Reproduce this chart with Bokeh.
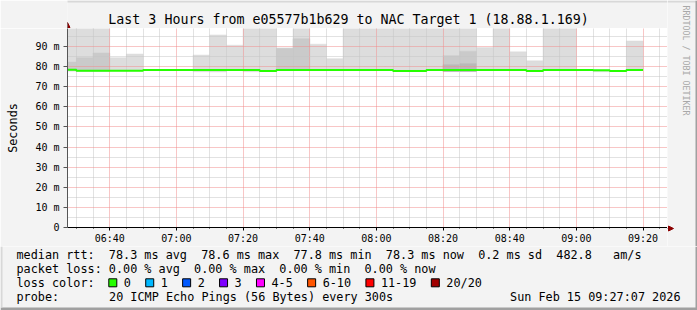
import math
import numpy as np
import pandas as pd
from bokeh.plotting import figure
from bokeh.layouts import column, row
from bokeh.models import Range1d, FixedTicker, DatetimeTickFormatter, Arrow, NormalHead
from bokeh.core.properties import value
from bokeh.embed import file_html
from bokeh.resources import INLINE

# ---------------- data ----------------
DAY = "2026-02-15"
bin_starts = pd.date_range(f"{DAY} 06:25", periods=35, freq="5min")

median_ms = [78.5, 78.0, 78.0, 78.0, 78.0, 78.3, 78.3, 78.3, 78.4, 78.4,
             78.4, 78.4, 77.8, 78.4, 78.4, 78.4, 78.4, 78.4, 78.4, 78.4,
             77.9, 77.9, 78.3, 78.4, 78.4, 78.4, 78.4, 78.4, 77.9, 78.4,
             78.4, 78.4, 78.2, 77.9, 78.4]
min_ms = [77.9, 77.7, 77.7, 77.8, 77.8, 78.1, 78.1, 78.1, 77.5, 77.4,
          78.2, 77.5, 77.6, 78.2, 78.2, 78.2, 78.2, 78.2, 78.2, 78.2,
          77.7, 77.7, 78.1, 77.6, 77.6, 78.2, 78.2, 78.2, 77.7, 78.2,
          78.2, 78.2, 77.5, 77.7, 78.2]
max_ms = [105.0, 106.0, 104.0, 84.5, 86.3, 78.5, 78.5, 78.5, 85.8, 95.8,
          90.7, 103.0, 104.0, 89.2, 102.0, 91.2, 84.0, 105.0, 104.0, 103.0,
          102.0, 104.0, 105.0, 103.0, 104.0, 89.5, 103.0, 87.4, 82.9, 104.0,
          103.0, 78.6, 78.4, 78.1, 92.8]
nan = float("nan")
mid_ms = [82.3, 84.5, 86.8, nan, nan, nan, nan, nan, nan, nan,
          nan, nan, nan, 89.2, 93.9, nan, nan, nan, nan, nan,
          nan, nan, nan, 85.5, 87.7, nan, nan, nan, nan, nan,
          nan, nan, nan, nan, nan]
core_ms = [nan] * 23 + [81.0, 81.5] + [nan] * 10

y_ticks = [0, 10, 20, 30, 40, 50, 60, 70, 80, 90]
y_tick_labels = ["0", "10 m", "20 m", "30 m", "40 m", "50 m", "60 m", "70 m", "80 m", "90 m"]

title_text = "Last 3 Hours from e05577b1b629 to NAC Target 1 (18.88.1.169)"
rtt_stats = ["78.3 ms avg", "78.6 ms max", "77.8 ms min", "78.3 ms now", "0.2 ms sd", "482.8   am/s"]
loss_stats = ["0.00 % avg", "0.00 % max", "0.00 % min", "0.00 % now"]
loss_labels = ["0", "1", "2", "3", "4-5", "6-10", "11-19", "20/20"]
loss_colors = ["#26ff00", "#00b8ff", "#0059ff", "#7e00ff", "#ff00ff", "#ff5500", "#ff0000", "#a10000"]
probe_text = "20 ICMP Echo Pings (56 Bytes) every 300s"
stamp_text = "Sun Feb 15 09:27:07 2026"
watermark = "RRDTOOL / TOBI OETIKER"

# ---------------- helpers ----------------
def ms(ts):
    return pd.Timestamp(ts).value / 1e6

starts = np.asarray(bin_starts.asi8 // 10**6, dtype=float)
ends = starts + 5 * 60 * 1000
med = np.array(median_ms)
lo = np.array(min_ms)
hi = np.array(max_ms)
mid = np.array(mid_ms)
core = np.array(core_ms)

FONT = "DejaVu Sans Mono"
BG = "#f3f3f3"
EDGE_LIGHT = "#d8d8d8"
EDGE_DARK = "#a0a0a0"
ARROW = "#8b0000"
NB = "\u00a0"


def blank_fig(w, h, xr, yr, left=0):
    f = figure(width=w, height=h, output_backend="svg", toolbar_location=None, title=None,
               x_range=Range1d(*xr), y_range=Range1d(*yr),
               x_axis_location=None, y_axis_location=None,
               min_border_left=left, min_border_right=0, min_border_top=0, min_border_bottom=0,
               background_fill_color=BG, border_fill_color=BG, outline_line_color=None)
    for g in f.grid:
        g.visible = False
    return f


def put_text(f, x, y, s, size="11.8px", align="left", angle=0.0, color="#000000"):
    f.text(x=[x], y=[y], text=[s.replace(" ", NB)], text_font=value(FONT),
           text_font_size=value(size), text_align=value(align),
           text_baseline=value("middle"), angle=angle, text_color=color)


def box(f, l, r, t, b, fill, line=None):
    f.quad(left=[l], right=[r], top=[t], bottom=[b], fill_color=fill,
           line_color=line, line_width=1)


def edge_line(f, xs, ys, xe, ye, color, width=2):
    f.add_layout(Arrow(end=None, x_start=xs, y_start=ys, x_end=xe, y_end=ye,
                       start_units="canvas", end_units="canvas",
                       line_color=color, line_width=width))


# ---------------- main chart (canvas x 0..667, y 28..246) ----------------
x0 = ms(f"{DAY} 06:27:20")
x1 = ms(f"{DAY} 09:27:20")

p = figure(width=667, height=218, output_backend="svg", toolbar_location=None, title=None,
           x_axis_type="datetime", x_range=Range1d(x0, x1), y_range=Range1d(0, 99),
           min_border_left=67, min_border_right=0, min_border_top=0, min_border_bottom=18,
           background_fill_color="white", border_fill_color=BG, outline_line_color=None)

p.quad(left=starts, right=ends, bottom=lo, top=hi, fill_color="#dddddd",
       line_color="#dddddd", line_width=0.5, level="image")
m = ~np.isnan(mid)
p.quad(left=starts[m], right=ends[m], bottom=lo[m], top=mid[m], fill_color="#cacaca",
       line_color="#cacaca", line_width=0.5, level="image")
c = ~np.isnan(core)
p.quad(left=starts[c], right=ends[c], bottom=lo[c], top=core[c], fill_color="#b9b9b9",
       line_color="#b9b9b9", line_width=0.5, level="image")

p.step(x=list(starts) + [ends[-1]], y=list(med) + [med[-1]], mode="after",
       line_color="#26ff00", line_width=2)

major_x = [ms(t) for t in pd.date_range(f"{DAY} 06:40", f"{DAY} 09:20", freq="20min")]
minor_x = [ms(t) for t in pd.date_range(f"{DAY} 06:30", f"{DAY} 09:25", freq="5min")]
minor_x = [t for t in minor_x if t not in major_x]
p.xaxis.ticker = FixedTicker(ticks=major_x, minor_ticks=minor_x)
p.xaxis.formatter = DatetimeTickFormatter(minutes="%H:%M", hourmin="%H:%M", hours="%H:%M")
minor_y = [v for v in range(5, 100, 5) if v not in y_ticks]
p.yaxis.ticker = FixedTicker(ticks=y_ticks, minor_ticks=minor_y)
p.yaxis.major_label_overrides = {t: l for t, l in zip(y_ticks, y_tick_labels)}

for ax in (p.xaxis[0], p.yaxis[0]):
    ax.major_label_text_font = FONT
    ax.major_label_text_font_size = "10px"
    ax.major_label_text_color = "#000000"
    ax.major_tick_in = 0
    ax.minor_tick_in = 0
p.xaxis.axis_line_color = "#000000"
p.xaxis.major_tick_out = 3
p.xaxis.minor_tick_out = 1
p.xaxis.major_tick_line_color = "#000000"
p.xaxis.minor_tick_line_color = "#000000"
p.xaxis.major_label_standoff = 2
p.yaxis.axis_line_color = "#555555"
p.yaxis.major_tick_out = 4
p.yaxis.minor_tick_out = 0
p.yaxis.major_tick_line_color = "#555555"
p.yaxis.major_label_standoff = 4
p.yaxis.axis_label = "Seconds"
p.yaxis.axis_label_text_font = FONT
p.yaxis.axis_label_text_font_size = "11.8px"
p.yaxis.axis_label_text_font_style = "normal"
p.yaxis.axis_label_text_color = "#000000"
p.yaxis.axis_label_standoff = 12

for g in (p.xgrid[0], p.ygrid[0]):
    g.grid_line_color = "#f08c8c"
    g.grid_line_dash = "1 1"
    g.minor_grid_line_color = "#c4c4c4"
    g.minor_grid_line_dash = "1 1"

edge_line(p, 1, 0, 1, 218, EDGE_LIGHT)

# ---------------- title strip (canvas x 0..667, y 0..28; frame x 67..667) ----------------
top = blank_fig(667, 28, (67, 667), (28, 0), left=67)
put_text(top, 348, 19, title_text, size="13.3px", align="center")
edge_line(top, 0, 1, 667, 1, EDGE_LIGHT)
edge_line(top, 1, 0, 1, 28, EDGE_LIGHT)
top.add_layout(Arrow(end=NormalHead(size=5, fill_color=ARROW, line_color=ARROW),
                     x_start=67, y_start=28, x_end=67, y_end=22,
                     start_units="canvas", end_units="canvas",
                     line_color="#555555", line_width=1))

# ---------------- right strip (canvas x 667..697, y 0..246) ----------------
rgt = blank_fig(30, 246, (667, 697), (246, 0))
box(rgt, 667, 697, 0, 2, EDGE_LIGHT)
box(rgt, 695, 697, 0, 246, EDGE_DARK)
rgt.segment(x0=[667], y0=[228], x1=[670], y1=[228], line_color="#000000", line_width=1)
rgt.patch(x=[668, 668, 673], y=[225.5, 230.5, 228], fill_color=ARROW, line_color=ARROW)
put_text(rgt, 685, 60, watermark, size="8.3px", align="center", angle=-math.pi / 2,
         color="#a8a8a8")

# ---------------- legend (canvas x 0..697, y 246..310) ----------------
leg = blank_fig(697, 64, (0, 697), (310, 246))
box(leg, 0, 697, 307, 310, EDGE_DARK)
box(leg, 695, 697, 246, 310, EDGE_DARK)
box(leg, 0, 2, 246, 307, EDGE_LIGHT)
CH = 7.12
put_text(leg, 16, 254.3, "median rtt:  " + "  ".join(rtt_stats))
put_text(leg, 16, 268.3, "packet loss: " + "  ".join(loss_stats))
put_text(leg, 16, 282.3, "loss color:")
put_text(leg, 16, 296, "probe:")
put_text(leg, 16 + 13 * CH, 296, probe_text)
put_text(leg, 680, 296, stamp_text, align="right")
sq = 108.3
for lab, col in zip(loss_labels, loss_colors):
    box(leg, sq, sq + 8, 278.3, 286.3, col, "#000000")
    put_text(leg, sq + 15, 282.3, lab)
    sq = sq + 15 + len(lab) * CH + 14.8

page = column(row(column(top, p), rgt), leg)
open("out.html", "w").write(file_html(page, INLINE))
